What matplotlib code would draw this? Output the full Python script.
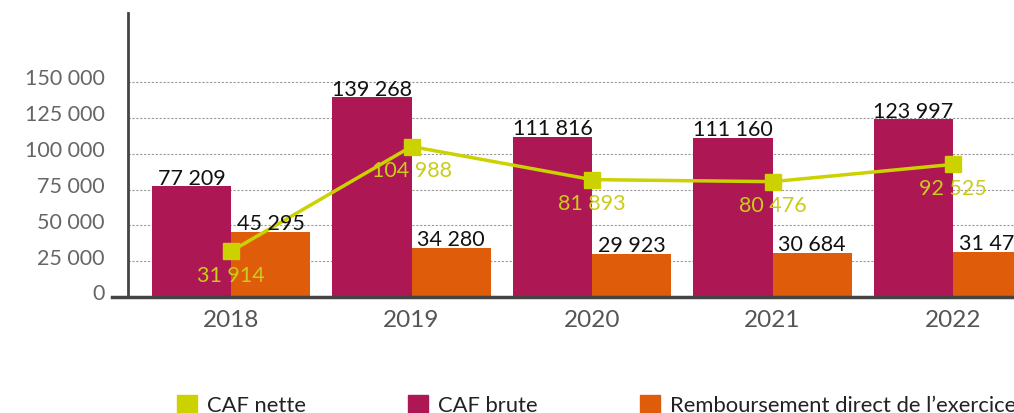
import matplotlib
matplotlib.use("Agg")
import matplotlib.pyplot as plt
from matplotlib.patches import Rectangle
from matplotlib.transforms import ScaledTranslation
import numpy as np

years = ["2018", "2019", "2020", "2021", "2022"]
caf_brute = [77209, 139268, 111816, 111160, 123997]
remboursement = [45295, 34280, 29923, 30684, 31470]
caf_nette = [31914, 104988, 81893, 80476, 92525]
yticks = [0, 25000, 50000, 75000, 100000, 125000, 150000]
legend_labels = ["CAF nette", "CAF brute", "Remboursement direct de l\u2019exercice"]

C_BRUTE = "#AD1753"
C_REMB = "#DE5C0A"
C_NETTE = "#CCD200"
C_NETTE_TXT = "#C9CC1A"

plt.rcParams["font.family"] = ["Lato", "DejaVu Sans"]

W, H = 1014, 414
fig = plt.figure(figsize=(W / 100, H / 100), dpi=100)
ax = fig.add_axes([128 / W, 1 - 298 / H, (W - 128) / W, (298 - 14) / H])

x = np.arange(len(years))
bw = 0.4377
ax.bar(x - bw / 2, caf_brute, width=bw, color=C_BRUTE, zorder=2)
ax.bar(x + bw / 2, remboursement, width=bw, color=C_REMB, zorder=2)
ax.plot(x, caf_nette, color=C_NETTE, lw=2.5, marker="s", markersize=11.5, zorder=4)

FS = 15.5
fmt = lambda v: f"{v:,}".replace(",", " ")
for i in range(len(years)):
    ax.annotate(fmt(caf_brute[i]), (x[i] - bw / 2, caf_brute[i]), xytext=(0, -1),
                textcoords="offset points", ha="center", va="bottom", fontsize=FS,
                color="#111111", zorder=5)
    ax.annotate(fmt(remboursement[i]), (x[i] + bw / 2, remboursement[i]), xytext=(0, -1),
                textcoords="offset points", ha="center", va="bottom", fontsize=FS,
                color="#111111", zorder=5)
    ax.annotate(fmt(caf_nette[i]), (x[i], caf_nette[i]), xytext=(0, -17),
                textcoords="offset points", ha="center", va="center", fontsize=FS,
                color=C_NETTE_TXT, zorder=5)

ax.set_xlim((128 - 231) / 180.5, (W - 231) / 180.5)
ax.set_ylim(0, (298 - 14) / 215 * 150000)

ax.set_yticks(yticks)
ax.set_yticklabels([fmt(v) for v in yticks], fontsize=FS, color="#666666")
ax.tick_params(axis="y", length=0, pad=17)
off = ScaledTranslation(0, 4 / 72, fig.dpi_scale_trans)
for lab in ax.get_yticklabels():
    lab.set_transform(lab.get_transform() + off)

ax.set_xticks(x)
ax.set_xticklabels(years, fontsize=17.5, color="#555555")
ax.tick_params(axis="x", length=0, pad=9)

for v in yticks[1:]:
    ax.axhline(v, color="#9a9a9a", lw=0.8, ls=(0, (2, 1.5)), zorder=1)

for s in ["top", "right"]:
    ax.spines[s].set_visible(False)
ax.spines["left"].set_color("#444444")
ax.spines["left"].set_linewidth(2)
ax.spines["bottom"].set_visible(False)
# x axis line, extending slightly left of y axis
fig.add_artist(plt.Line2D([112 / W, 1], [1 - 298 / H, 1 - 298 / H], color="#444444", lw=2.5))

# legend
leg_x = [177, 408, 640]
colors = [C_NETTE, C_BRUTE, C_REMB]
for lx, c, t in zip(leg_x, colors, legend_labels):
    fig.add_artist(Rectangle((lx / W, 1 - 414 / H), 20 / W, 18 / H, color=c,
                             transform=fig.transFigure))
    fig.text((lx + 30) / W, 1 - 406 / H, t, fontsize=15.8, color="#222222",
             va="center", ha="left")

fig.savefig("out.png", dpi=100)
